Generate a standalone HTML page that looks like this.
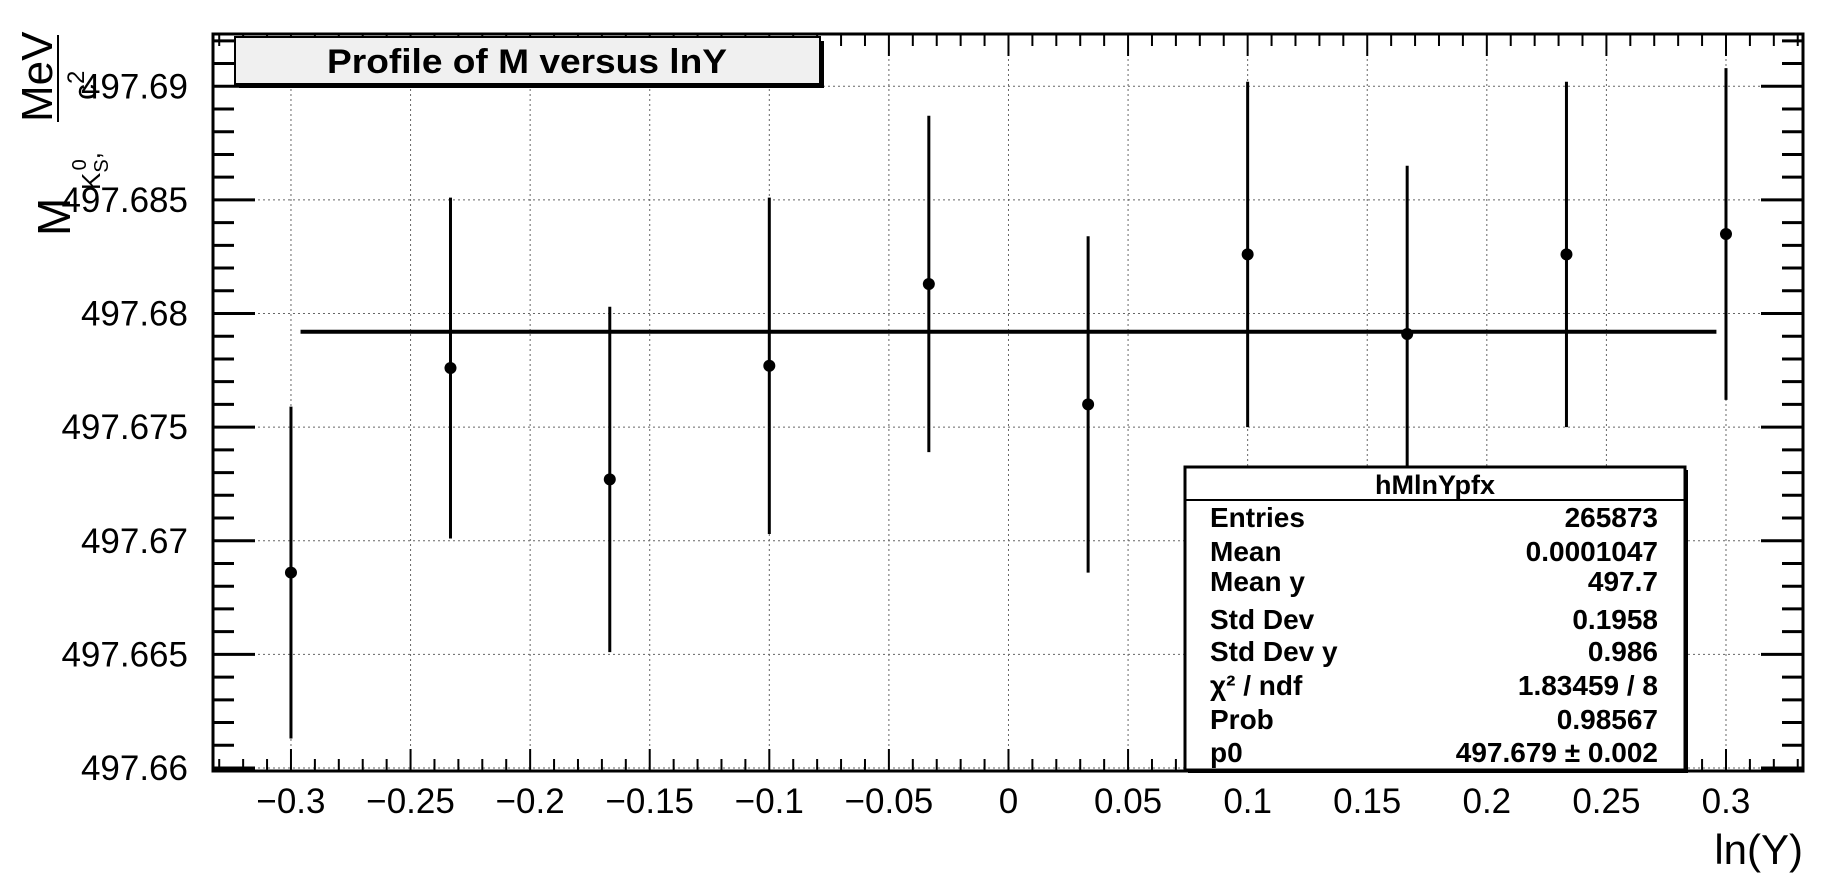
<!DOCTYPE html>
<html><head><meta charset="utf-8"><style>
html,body{margin:0;padding:0;background:#fff;}
svg{display:block;font-family:"Liberation Sans",Arial,sans-serif;}
</style></head><body>
<svg id="chart" width="1825" height="883" viewBox="0 0 1825 883" xmlns="http://www.w3.org/2000/svg">
<g id="grid"></g>
<g id="ticks"></g>
<g id="labels"></g>
<g id="marks"></g>
<rect x="213" y="34" width="1590" height="737" fill="none" stroke="#000" stroke-width="3"/>
<g>
<rect x="239" y="41" width="585" height="47" fill="#000"/>
<rect x="235" y="37" width="585" height="47" fill="#f0f0f0" stroke="#000" stroke-width="2"/>
<text x="527" y="73" text-anchor="middle" font-size="34" font-weight="bold" textLength="400" lengthAdjust="spacingAndGlyphs">Profile of M versus lnY</text>
</g>
<g>
<text transform="translate(70,236) rotate(-90)" font-size="46">M</text>
<text transform="translate(100,190) rotate(-90)" font-size="26">K<tspan font-size="20" dy="8">S</tspan><tspan font-size="20" dy="-22" dx="-11">0</tspan><tspan dy="14">,</tspan></text>
<text transform="translate(52,122) rotate(-90)" font-size="44">MeV</text>
<line x1="58" y1="35" x2="58" y2="122" stroke="#000" stroke-width="2"/>
<text transform="translate(96,100) rotate(-90)" font-size="32">c<tspan font-size="24" dy="-12">2</tspan></text>
</g>
<text x="1803" y="864" text-anchor="end" font-size="42">ln(Y)</text>
<g>
<rect x="1188" y="470" width="500" height="303" fill="#000"/>
<rect x="1185" y="467" width="500" height="303" fill="#fff" stroke="#000" stroke-width="3"/>
<line x1="1185" y1="500" x2="1685" y2="500" stroke="#000" stroke-width="2"/>
<text x="1435" y="494" text-anchor="middle" font-size="27" font-weight="bold">hMlnYpfx</text>
<g font-size="28" font-weight="bold">
<text x="1210" y="527">Entries</text><text x="1658" y="527" text-anchor="end">265873</text>
<text x="1210" y="561">Mean</text><text x="1658" y="561" text-anchor="end">0.0001047</text>
<text x="1210" y="591">Mean y</text><text x="1658" y="591" text-anchor="end">497.7</text>
<text x="1210" y="629">Std Dev</text><text x="1658" y="629" text-anchor="end">0.1958</text>
<text x="1210" y="661">Std Dev y</text><text x="1658" y="661" text-anchor="end">0.986</text>
<text x="1210" y="695">χ² / ndf</text><text x="1658" y="695" text-anchor="end">1.83459 / 8</text>
<text x="1210" y="729">Prob</text><text x="1658" y="729" text-anchor="end">0.98567</text>
<text x="1210" y="762">p0</text><text x="1658" y="762" text-anchor="end">497.679 ± 0.002</text>
</g>
</g>
</svg>
<script>
const binCenters=[-0.3,-0.2333,-0.1667,-0.1,-0.0333,0.0333,0.1,0.1667,0.2333,0.3];
const means=[497.6686,497.6776,497.6727,497.6777,497.6813,497.6760,497.6826,497.6791,497.6826,497.6835];
const errors=[0.0073,0.0075,0.0076,0.0074,0.0074,0.0074,0.0076,0.0074,0.0076,0.0073];
const fitValue=497.6792;
const fitRange=[-0.296,0.296];
const xTickLabels=["−0.3","−0.25","−0.2","−0.15","−0.1","−0.05","0","0.05","0.1","0.15","0.2","0.25","0.3"];
const xTickValues=[-0.3,-0.25,-0.2,-0.15,-0.1,-0.05,0,0.05,0.1,0.15,0.2,0.25,0.3];
const yTickValues=[497.66,497.665,497.67,497.675,497.68,497.685,497.69];
const yTickLabels=["497.66","497.665","497.67","497.675","497.68","497.685","497.69"];

const L=213,R=1803,T=34,B=771;
const xmin=-0.3326,xmax=0.3322,ymin=497.66,ymax=497.6923;
const X=v=>L+(v-xmin)/(xmax-xmin)*(R-L);
const Y=v=>B-3-(v-ymin)/(ymax-ymin)*(B-3-T);
const NS="http://www.w3.org/2000/svg";
function mk(tag,attrs,parent){const e=document.createElementNS(NS,tag);for(const k in attrs)e.setAttribute(k,attrs[k]);parent.appendChild(e);return e;}
const grid=document.getElementById('grid'),ticks=document.getElementById('ticks'),labels=document.getElementById('labels'),marks=document.getElementById('marks');

xTickValues.forEach((v,i)=>{
  const x=X(v);
  const g=mk('line',{x1:x,y1:T,x2:x,y2:B,stroke:'#666','stroke-width':1,'stroke-dasharray':'2,3'},grid);
  
  
  const t=mk('text',{x:x,y:B+42,'text-anchor':'middle','font-size':35},labels);
  t.textContent=xTickLabels[i];
  
  
});
yTickValues.forEach((v,i)=>{
  const y=Y(v);
  const g=mk('line',{x1:L,y1:y,x2:R,y2:y,stroke:'#666','stroke-width':1,'stroke-dasharray':'2,3'},grid);
  
  
  const t=mk('text',{x:188,y:y+12,'text-anchor':'end','font-size':35},labels);
  t.textContent=yTickLabels[i];
  
  
});
for(let k=-33;k<=33;k++){
  const v=k*0.01,x=X(v),major=(k%5===0),len=major?22:12;
  mk('line',{x1:x,y1:B,x2:x,y2:B-len,stroke:'#000','stroke-width':2},ticks);
  mk('line',{x1:x,y1:T,x2:x,y2:T+len,stroke:'#000','stroke-width':2},ticks);
}
for(let k=0;k<=32;k++){
  const v=497.66+k*0.001,y=Y(v),major=(k%5===0),len=major?42:21;
  mk('line',{x1:L,y1:y,x2:L+len,y2:y,stroke:'#000','stroke-width':3},ticks);
  mk('line',{x1:R,y1:y,x2:R-len,y2:y,stroke:'#000','stroke-width':3},ticks);
}
const fl=mk('line',{x1:X(fitRange[0]),y1:Y(fitValue),x2:X(fitRange[1]),y2:Y(fitValue),stroke:'#000','stroke-width':4},marks);


binCenters.forEach((c,i)=>{
  const x=X(c);
  const eb=mk('line',{x1:x,y1:Y(means[i]+errors[i]),x2:x,y2:Y(means[i]-errors[i]),stroke:'#000','stroke-width':3},marks);
  
  
  const p=mk('circle',{cx:x,cy:Y(means[i]),r:6,fill:'#000'},marks);
  
  
});
</script>
</body></html>
